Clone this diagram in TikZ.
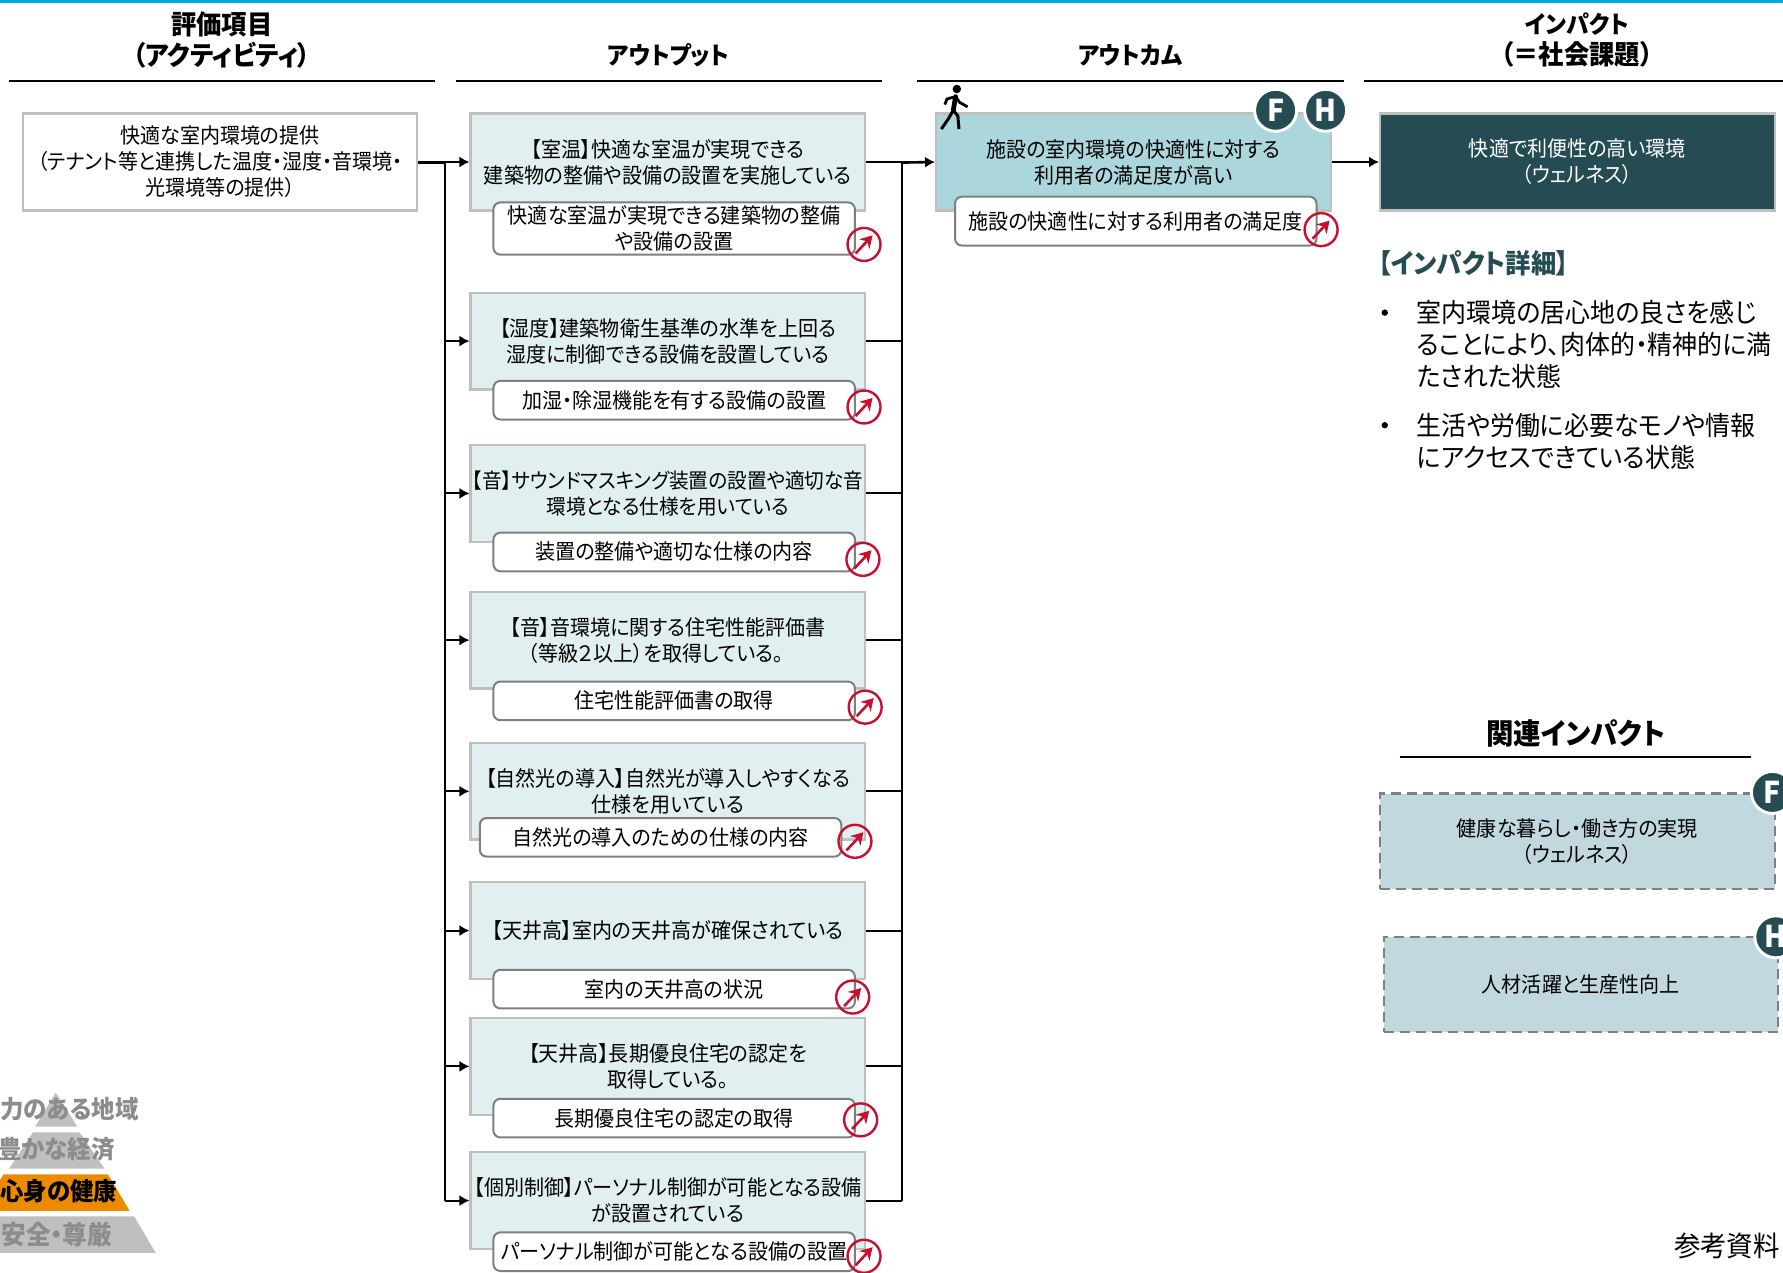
\documentclass[tikz,border=0pt]{standalone}
\usepackage{fontspec}
\setmainfont[RawFeature=+palt,FakeStretch=0.945]{Noto Sans CJK JP}
\usetikzlibrary{arrows.meta,calc}
\definecolor{topbar}{HTML}{00AEDB}
\definecolor{boxline}{HTML}{BFBFBF}
\definecolor{paleteal}{HTML}{E1EFF0}
\definecolor{midteal}{HTML}{ABD6DC}
\definecolor{darkteal}{HTML}{254C52}
\definecolor{relteal}{HTML}{C0D8DE}
\definecolor{subline}{HTML}{7F7F7F}
\definecolor{linkred}{HTML}{C8102E}
\definecolor{pyrgray}{HTML}{BFBFBF}
\definecolor{pyrtext}{HTML}{8C8C8C}
\definecolor{pyrorange}{HTML}{EC8A00}
\newcommand{\bodyfs}{\fontsize{10.6}{13}\selectfont}
\newcommand{\hdk}[1]{{\fontsize{13.4}{15.5}\selectfont #1}}
\newlength{\ux}\setlength{\ux}{0.5685pt}
\tikzset{
 x=0.5685pt,y=-0.5685pt,
 activitybox/.style={draw=boxline,line width=1.2pt,fill=white,minimum width=347\ux,minimum height=85\ux,inner sep=0pt,align=center,font=\bodyfs,text=black},
 outbox/.style={activitybox,fill=paleteal},
 outcomebox/.style={activitybox,fill=midteal},
 impactbox/.style={activitybox,fill=darkteal,text=white},
 relbox/.style={draw=subline,line width=1.1pt,dash pattern=on 5pt off 3pt,fill=relteal,minimum width=347\ux,minimum height=84\ux,inner sep=0pt,align=center,font=\bodyfs,text=black},
 subbox/.style={draw=subline,line width=1pt,fill=white,rounded corners=3.5pt,minimum width=318\ux,inner sep=0pt,align=center,font=\bodyfs,text=black},
 linkmark/.style={circle,draw=linkred,line width=1.2pt,minimum size=29\ux,inner sep=0pt},
 linkarrow/.style={draw=linkred,line width=1.3pt,-{Stealth[length=6pt,width=7pt]}},
 badge/.style={circle,fill=darkteal,draw=white,line width=1.5pt,minimum size=37\ux,inner sep=0pt,text=white,font=\fontsize{15}{15}\selectfont\bfseries},
 headtext/.style={align=center,font=\fontsize{12.1}{15.5}\selectfont\bfseries,text=black},
 headline/.style={line width=1pt,draw=black},
 conn/.style={line width=1pt,draw=black},
 connarrow/.style={conn,-{Latex[length=5pt,width=5.5pt]}},
 pyrlabel/.style={anchor=west,inner sep=0pt,font=\fontsize{12.4}{14}\selectfont\bfseries},
 bulletdot/.style={circle,fill=black,inner sep=0pt,minimum size=3.2pt},
 detailtext/.style={anchor=north west,inner sep=0pt,align=left,font=\fontsize{13.2}{16}\selectfont,text=black},
}
\begin{document}
\begin{tikzpicture}
\useasboundingbox (0,0) rectangle (1568.3,1119.5);
\begin{scope}
\clip (0,0) rectangle (1568.3,1119.5);
\fill[topbar] (0,0) rectangle (1568.3,3);

% headers
\node[headtext] (h1) at (195,35) {\hdk{評価項目}\\\hdk{（アクティビティ）}};
\node[headtext] (h2) at (588,49) {アウトプット};
\node[headtext] (h3) at (994,49) {アウトカム};
\node[headtext] (h4) at (1387,35) {インパクト\\\hdk{（＝社会課題）}};
\coordinate (l1a) at (8,71); \coordinate (l1b) at (383,71);
\coordinate (l2a) at (401,71); \coordinate (l2b) at (776,71);
\coordinate (l3a) at (807,71); \coordinate (l3b) at (1182,71);
\coordinate (l4a) at (1200,71); \coordinate (l4b) at (1568.3,71);
\draw[headline] (l1a)--(l1b); \draw[headline] (l2a)--(l2b);
\draw[headline] (l3a)--(l3b); \draw[headline] (l4a)--(l4b);

% main boxes
\node[activitybox] (act) at (193.5,142.5) {快適な室内環境の提供\\（テナント等と連携した温度・湿度・音環境・\\光環境等の提供）};
\node[outbox] (o1) at (587.5,142.5) {【室温】快適な室温が実現できる\\建築物の整備や設備の設置を実施している};
\node[outbox] (o2) at (587.5,300) {【湿度】建築物衛生基準の水準を上回る\\湿度に制御できる設備を設置している};
\node[outbox,font=\fontsize{10.4}{13}\selectfont] (o3) at (587.5,434) {【音】サウンドマスキング装置の設置や適切な音\\環境となる仕様を用いている};
\node[outbox] (o4) at (587.5,563) {【音】音環境に関する住宅性能評価書\\（等級２以上）を取得している。\hspace*{12pt}};
\node[outbox] (o5) at (587.5,696) {【自然光の導入】自然光が導入しやすくなる\\仕様を用いている};
\node[outbox] (o6) at (587.5,818.5) {【天井高】室内の天井高が確保されている};
\node[outbox] (o7) at (587.5,938) {【天井高】長期優良住宅の認定を\\取得している。};
\node[outbox] (o8) at (587.5,1056) {【個別制御】パーソナル制御が可能となる設備\\が設置されている};
\node[outcomebox] (oc) at (997,142.5) {施設の室内環境の快適性に対する\\利用者の満足度が高い};
\node[impactbox] (imp) at (1387.5,142.5) {快適で利便性の高い環境\\（ウェルネス）};

% connectors
\coordinate (tl) at (391,143);
\coordinate (tr) at (793,143);
\draw[conn,line width=1.5pt] (act.east|-tl) -- (tl);
\draw[conn] (tl) -- (tl|-o8.west);
\draw[conn] (tr) -- (tr|-o8.east);
\foreach \n in {o1,o2,o3,o4,o5,o6,o7,o8}{
  \draw[connarrow] (tl|-\n.west) -- (\n.west);
  \draw[conn] (\n.east) -- (tr|-\n.east);
}
\draw[connarrow,line width=1.3pt] (tr) -- (oc.west);
\draw[connarrow] (oc.east) -- (imp.west);

% sub boxes
\node[subbox,minimum height=46\ux] (s1) at (593,201) {快適な室温が実現できる建築物の整備\\や設備の設置};
\node[subbox,minimum height=34\ux] (s2) at (593,352) {加湿・除湿機能を有する設備の設置};
\node[subbox,minimum height=34\ux] (s3) at (593,485.5) {装置の整備や適切な仕様の内容};
\node[subbox,minimum height=34\ux] (s4) at (593,616.5) {住宅性能評価書の取得};
\node[subbox,minimum height=34\ux] (s5) at (581,736.5) {自然光の導入のための仕様の内容};
\node[subbox,minimum height=34\ux] (s6) at (593,870) {室内の天井高の状況};
\node[subbox,minimum height=34\ux] (s7) at (593,983.5) {長期優良住宅の認定の取得};
\node[subbox,minimum height=34\ux] (s8) at (593,1101) {パーソナル制御が可能となる設備の設置};
\node[subbox,minimum height=43\ux] (s9) at (999,194.5) {施設の快適性に対する利用者の満足度};

% link marks
\foreach \n/\p in {k1/{760,215},k2/{760,358},k3/{759,492},k4/{761,622},k5/{752,740},k6/{750,877},k7/{757,985},k8/{760,1105},k9/{1162,202}}{
  \node[linkmark] (\n) at (\p) {};
  \draw[linkarrow] ([shift={(-7.5,8)}]\n.center) -- ([shift={(7.5,-8)}]\n.center);
}

% person
\node[circle,fill=black,inner sep=0pt,minimum size=7.5\ux] (head) at (841.6,78.3) {};
\coordinate (neck) at (840.5,85); \coordinate (hip) at (838.5,97);
\draw[line width=2.4pt,line cap=round] (neck) -- (hip);
\draw[line width=1.5pt,line join=round] (hip) -- (834.5,104) -- (828,113.5);
\draw[line width=1.5pt,line join=round] (hip) -- (842.5,102) -- (843.5,113.5);
\draw[line width=1.4pt,line join=round] (neck) -- (833,87) -- (831,92);
\draw[line width=1.4pt,line join=round] (neck) -- (844,90) -- (851,94);

% badges
\node[badge] (bf) at (1122,97) {F};
\node[badge] (bh) at (1166,97) {H};

% impact detail
\node[anchor=west,inner sep=0pt,font=\fontsize{13.4}{16}\selectfont\bfseries,text=darkteal] (dt) at (1212,232) {【インパクト詳細】};
\node[bulletdot] (d1) at (1218,275) {};
\node[detailtext] (dx1) at (1246,264) {室内環境の居心地の良さを感じ\\ることにより、肉体的・精神的に満\\たされた状態};
\node[bulletdot] (d2) at (1218,374) {};
\node[detailtext] (dx2) at (1246,363) {生活や労働に必要なモノや情報\\にアクセスできている状態};

% related
\node[font=\fontsize{14.5}{16}\selectfont\bfseries] (rt) at (1386,645) {関連インパクト};
\coordinate (rla) at (1231,666); \coordinate (rlb) at (1540,666);
\draw[headline] (rla)--(rlb);
\node[relbox] (r1) at (1387.5,740) {健康な暮らし・働き方の実現\\（ウェルネス）};
\node[relbox] (r2) at (1390.5,866) {人材活躍と生産性向上};
\node[badge] (bf2) at (1559,697) {F};
\node[badge] (bh2) at (1562,824) {H};

\node[font=\fontsize{14}{15}\selectfont] (ref) at (1519,1096) {参考資料};

% pyramid
\fill[pyrgray] (49,961) -- (68,991) -- (31,991) -- cycle;
\fill[pyrgray] (29,996) -- (70,996) -- (92,1028) -- (8,1028) -- cycle;
\fill[pyrorange] (3,1033) -- (95,1033) -- (114,1065) -- (-16,1065) -- cycle;
\fill[pyrgray] (-20,1070) -- (118,1070) -- (137,1102) -- (-39,1102) -- cycle;
\node[pyrlabel,text=pyrtext] (p1) at (0,976) {力のある地域};
\node[pyrlabel,text=pyrtext] (p2) at (-2,1011) {豊かな経済};
\node[pyrlabel,text=black] (p3) at (0,1048) {心身の健康};
\node[pyrlabel,text=pyrtext,font=\fontsize{13}{14}\selectfont\bfseries] (p4) at (1,1086) {安全・尊厳};
\end{scope}
\end{tikzpicture}
\end{document}
